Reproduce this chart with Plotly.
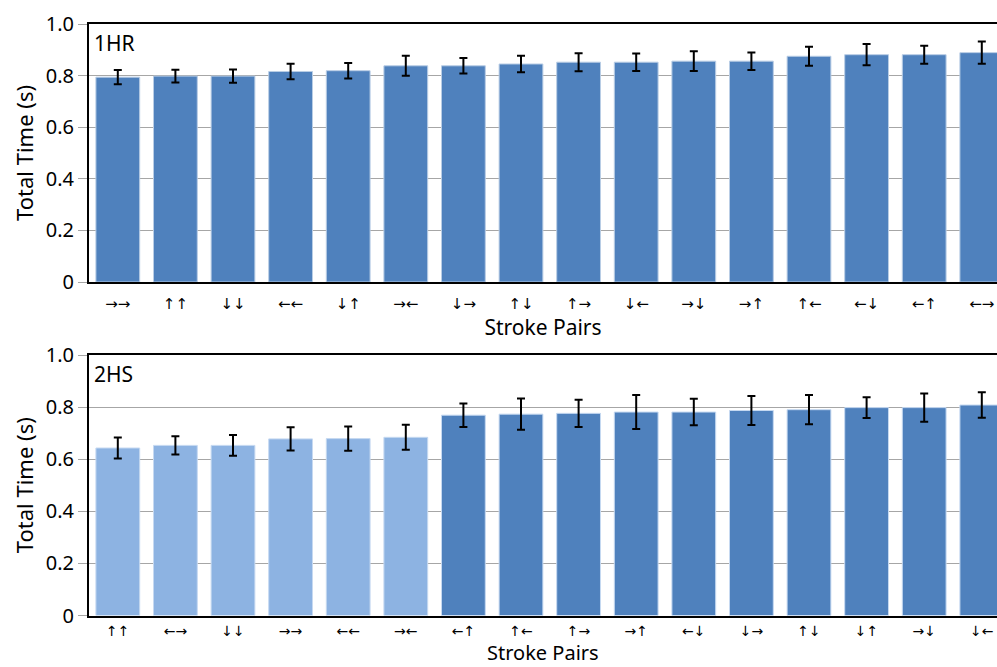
import plotly.graph_objects as go

# ---- data ----
labels_1hr = ["→→", "↑↑", "↓↓", "←←", "↓↑", "→←", "↓→", "↑↓",
              "↑→", "↓←", "→↓", "→↑", "↑←", "←↓", "←↑", "←→"]
values_1hr = [0.794, 0.798, 0.798, 0.816, 0.819, 0.838, 0.838, 0.845,
              0.852, 0.852, 0.856, 0.856, 0.875, 0.881, 0.881, 0.889]
errors_1hr = [0.028, 0.025, 0.026, 0.030, 0.030, 0.039, 0.030, 0.032,
              0.035, 0.034, 0.038, 0.034, 0.037, 0.041, 0.035, 0.043]

labels_2hs = ["↑↑", "←→", "↓↓", "→→", "←←", "→←", "←↑", "↑←",
              "↑→", "→↑", "←↓", "↓→", "↑↓", "↓↑", "→↓", "↓←"]
values_2hs = [0.643, 0.653, 0.653, 0.678, 0.679, 0.684, 0.769, 0.773,
              0.776, 0.781, 0.781, 0.787, 0.790, 0.798, 0.798, 0.808]
errors_2hs = [0.040, 0.035, 0.040, 0.045, 0.047, 0.048, 0.045, 0.060,
              0.052, 0.065, 0.051, 0.056, 0.056, 0.040, 0.054, 0.049]
group_2hs = ["light"] * 6 + ["dark"] * 10

DARK = "#4F81BD"
LIGHT = "#8DB3E2"
colors_2hs = [LIGHT if g == "light" else DARK for g in group_2hs]

FONT = "Noto Sans"
ARROW_FONT = "DejaVu Sans"

fig = go.Figure()
err_style = dict(type="data", color="black", thickness=2, width=4)

fig.add_trace(go.Bar(
    x=list(range(len(labels_1hr))), y=values_1hr,
    error_y=dict(array=errors_1hr, **err_style),
    marker=dict(color=DARK, line=dict(color="#B9CDE5", width=1)),
    xaxis="x", yaxis="y", showlegend=False))
fig.add_trace(go.Bar(
    x=list(range(len(labels_2hs))), y=values_2hs,
    error_y=dict(array=errors_2hs, **err_style),
    marker=dict(color=colors_2hs, line=dict(color="#C6D9F1", width=1)),
    xaxis="x2", yaxis="y2", showlegend=False))

W, H = 997, 667
left = 89 / W
slot = 57.6
xmax = (W - 89) / slot - 0.5

def xax(labels, dom_anchor, lab_standoff, title_text, lab_size):
    return dict(
        domain=[left, 1], anchor=dom_anchor,
        range=[-0.5, xmax],
        tickmode="array", tickvals=list(range(len(labels))), ticktext=labels,
        showline=True, linecolor="black", linewidth=2, mirror=True,
        ticks="", ticklabelstandoff=lab_standoff,
        tickfont=dict(family=ARROW_FONT, size=lab_size, color="black"),
        title=dict(text=title_text, standoff=2,
                   font=dict(family=FONT, size=21, color="black")),
        showgrid=False, zeroline=False, automargin=False,
    )

def yax(dom, anchor):
    return dict(
        domain=dom, anchor=anchor, range=[0, 1.0],
        tickmode="array", tickvals=[0, 0.2, 0.4, 0.6, 0.8, 1.0],
        ticktext=["0", "0.2", "0.4", "0.6", "0.8", "1.0"],
        showline=True, linecolor="black", linewidth=2,
        ticks="outside", ticklen=9, tickcolor="#A6A6A6", tickwidth=1,
        tickfont=dict(family=FONT, size=20, color="black"),
        showgrid=True, gridcolor="#A6A6A6", gridwidth=1, zeroline=False,
        title=dict(text="Total Time (s)", standoff=6,
                   font=dict(family=FONT, size=22, color="black")),
        automargin=False,
    )

top_dom = [1 - 282 / H, 1 - 24 / H]
bot_dom = [1 - 615.5 / H, 1 - 355 / H]

fig.update_layout(
    width=W, height=H,
    margin=dict(l=0, r=0, t=0, b=0),
    paper_bgcolor="white", plot_bgcolor="white",
    bargap=0.24,
    xaxis=xax(labels_1hr, "y", 7, "Stroke Pairs", 15),
    yaxis=yax(top_dom, "x"),
    xaxis2=xax(labels_2hs, "y2", 2, "", 14),
    yaxis2=yax(bot_dom, "x2"),
    annotations=[
        dict(text="1HR", x=left + 3 / W, y=top_dom[1] - 3 / H, xref="paper", yref="paper",
             xanchor="left", yanchor="top", showarrow=False,
             font=dict(family=FONT, size=21, color="black")),
        dict(text="2HS", x=left + 3 / W, y=bot_dom[1] - 3 / H, xref="paper", yref="paper",
             xanchor="left", yanchor="top", showarrow=False,
             font=dict(family=FONT, size=21, color="black")),
        dict(text="Stroke Pairs", x=(left + 1) / 2, y=0,
             xref="paper", yref="paper", xanchor="center", yanchor="bottom",
             showarrow=False, borderpad=0,
             font=dict(family=FONT, size=20, color="black")),
    ],
)

fig.write_html("out.html")
